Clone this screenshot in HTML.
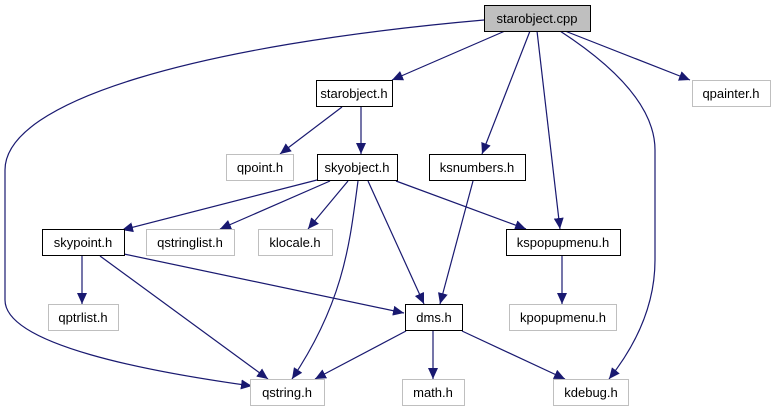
<!DOCTYPE html>
<html><head><meta charset="utf-8"><style>
html,body{margin:0;padding:0;background:#fff;}
svg{display:block;}
text{font-family:"Liberation Sans",sans-serif;font-size:13px;fill:#000;text-anchor:middle;}
</style></head><body>
<svg width="776" height="411" viewBox="0 0 776 411" xmlns="http://www.w3.org/2000/svg">
<defs>
<marker id="a" markerUnits="userSpaceOnUse" markerWidth="12" markerHeight="10" refX="11" refY="5" orient="auto">
<path d="M0,0 L11,5 L0,10 Z" fill="#191970"/>
</marker>
</defs>
<g fill="none" stroke="#191970" stroke-width="1.2" marker-end="url(#a)">
<path d="M505,31 L392,80"/>
<path d="M565,31 L690,80"/>
<path d="M530,31 L482,154"/>
<path d="M537,31 L560,229"/>
<path d="M560,31 C620,70 655,110 655,150 L655,260 C655,310 632,350 609,379"/>
<path d="M484,20 C200,45 5,100 5,170 L5,300 C5,345 150,372 252,386"/>
<path d="M342,107 L280,154"/>
<path d="M361,107 L361,154"/>
<path d="M317,180 L122,230"/>
<path d="M330,181 L220,229"/>
<path d="M348,181 L308,229"/>
<path d="M358,181 C350,240 345,300 292,379"/>
<path d="M368,181 L424,304"/>
<path d="M396,181 L526,229"/>
<path d="M473,181 L440,304"/>
<path d="M562,256 L562,304"/>
<path d="M82,256 L82,304"/>
<path d="M100,256 L268,379"/>
<path d="M124,254 L404,313"/>
<path d="M406,331 L315,379"/>
<path d="M433,331 L433,379"/>
<path d="M462,331 L565,379"/>
</g>
<g stroke-width="1">
<rect x="484.5" y="5.5" width="106" height="26" fill="#bfbfbf" stroke="#000"/>
<rect x="316.5" y="80.5" width="76" height="26" fill="#fff" stroke="#000"/>
<rect x="692.5" y="80.5" width="78" height="26" fill="#fff" stroke="#bfbfbf"/>
<rect x="226.5" y="154.5" width="67" height="26" fill="#fff" stroke="#bfbfbf"/>
<rect x="317.5" y="154.5" width="80" height="26" fill="#fff" stroke="#000"/>
<rect x="429.5" y="154.5" width="96" height="26" fill="#fff" stroke="#000"/>
<rect x="42.5" y="229.5" width="82" height="26" fill="#fff" stroke="#000"/>
<rect x="146.5" y="229.5" width="88" height="26" fill="#fff" stroke="#bfbfbf"/>
<rect x="258.5" y="229.5" width="74" height="26" fill="#fff" stroke="#bfbfbf"/>
<rect x="506.5" y="229.5" width="114" height="26" fill="#fff" stroke="#000"/>
<rect x="48.5" y="304.5" width="70" height="26" fill="#fff" stroke="#bfbfbf"/>
<rect x="405.5" y="304.5" width="57" height="26" fill="#fff" stroke="#000"/>
<rect x="509.5" y="304.5" width="107" height="26" fill="#fff" stroke="#bfbfbf"/>
<rect x="250.5" y="379.5" width="74" height="26" fill="#fff" stroke="#bfbfbf"/>
<rect x="402.5" y="379.5" width="62" height="26" fill="#fff" stroke="#bfbfbf"/>
<rect x="553.5" y="379.5" width="75" height="26" fill="#fff" stroke="#bfbfbf"/>
</g>
<text x="537" y="23">starobject.cpp</text>
<text x="354" y="98">starobject.h</text>
<text x="731" y="98">qpainter.h</text>
<text x="260" y="172">qpoint.h</text>
<text x="357" y="172">skyobject.h</text>
<text x="477" y="172">ksnumbers.h</text>
<text x="83" y="247">skypoint.h</text>
<text x="190" y="247">qstringlist.h</text>
<text x="295" y="247">klocale.h</text>
<text x="563" y="247">kspopupmenu.h</text>
<text x="83" y="322">qptrlist.h</text>
<text x="434" y="322">dms.h</text>
<text x="563" y="322">kpopupmenu.h</text>
<text x="287" y="397">qstring.h</text>
<text x="433" y="397">math.h</text>
<text x="591" y="397">kdebug.h</text>
</svg>
</body></html>
